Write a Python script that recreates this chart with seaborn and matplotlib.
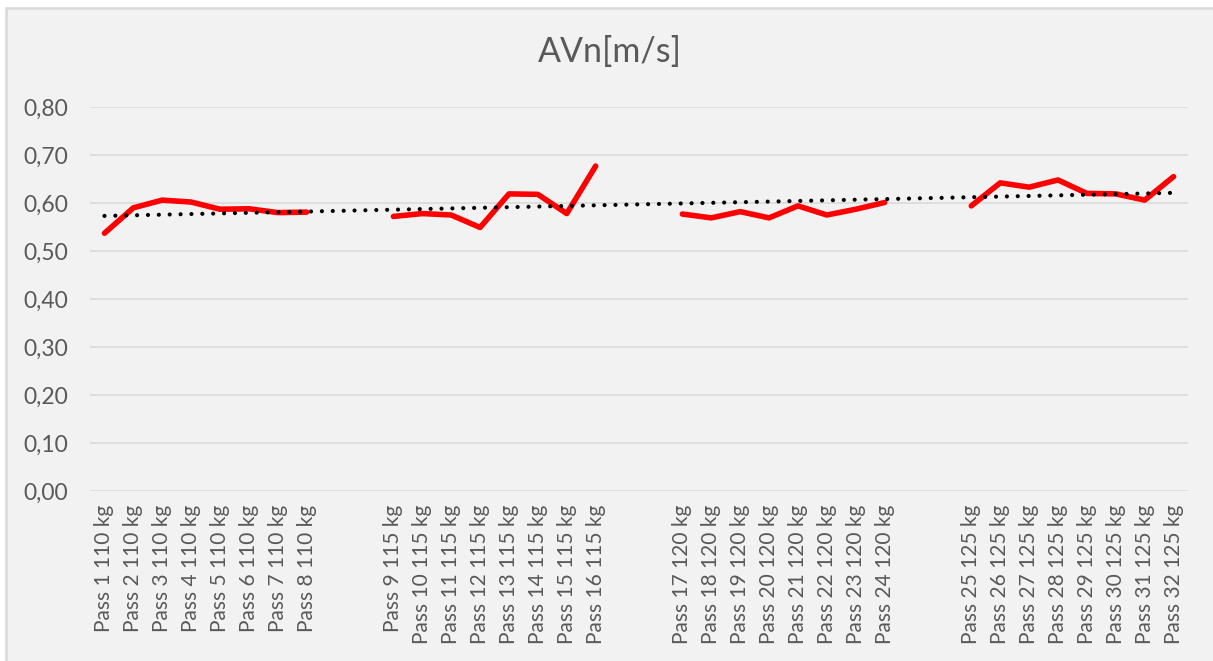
import numpy as np
import pandas as pd
import seaborn as sns
import matplotlib.pyplot as plt
from matplotlib.patches import Rectangle

# Average velocity per pass, four load groups of eight passes each
loads = ["110 kg", "115 kg", "120 kg", "125 kg"]
avn_110 = [0.537, 0.590, 0.606, 0.602, 0.587, 0.588, 0.580, 0.581]
avn_115 = [0.572, 0.578, 0.575, 0.549, 0.619, 0.618, 0.578, 0.677]
avn_120 = [0.577, 0.569, 0.582, 0.569, 0.594, 0.575, 0.587, 0.601]
avn_125 = [0.594, 0.642, 0.633, 0.648, 0.620, 0.619, 0.606, 0.655]
groups = [avn_110, avn_115, avn_120, avn_125]
gap = 2  # empty categories between load groups

y_ticks = [0.0, 0.1, 0.2, 0.3, 0.4, 0.5, 0.6, 0.7, 0.8]

# Build category table (blank categories carry NaN so the line breaks)
labels, values = [], []
n = 1
for gi, (load, vals) in enumerate(zip(loads, groups)):
    for v in vals:
        labels.append(f"Pass {n} {load}")
        values.append(v)
        n += 1
    if gi < len(groups) - 1:
        labels.extend([""] * gap)
        values.extend([np.nan] * gap)

df = pd.DataFrame({"x": np.arange(len(labels)), "label": labels, "avn": values})

sns.set_theme(style="white")
plt.rcParams["font.family"] = ["Lato", "DejaVu Sans"]
text_color = "#595959"
bg = "#F2F2F2"

fig = plt.figure(figsize=(12.13, 6.61), dpi=100, facecolor="white")
fig.patches.append(Rectangle((6 / 1213, -0.01), 1, 1.01 - 8 / 661, transform=fig.transFigure,
                             facecolor=bg, edgecolor="#D9D9D9", linewidth=1.8, zorder=-10))
ax = fig.add_axes([90 / 1213, 1 - 491 / 661, 1098 / 1213, 384 / 661])
ax.set_zorder(1)
ax.set_facecolor(bg)

# Horizontal gridlines
for t in y_ticks:
    ax.axhline(t, color="#D9D9D9", linewidth=1.1, zorder=1)

# Data line, broken at the empty categories
for start in range(0, len(df), 8 + gap):
    seg = df.iloc[start:start + 8]
    sns.lineplot(data=seg, x="x", y="avn", ax=ax, color="#FF0000", linewidth=4.0,
                 solid_capstyle="round", solid_joinstyle="round", zorder=3)

# Linear trendline over all categories
sns.regplot(data=df.dropna(), x="x", y="avn", ax=ax, scatter=False, ci=None,
            line_kws=dict(color="black", linewidth=3.0, linestyle=(0, (0.01, 2.6)),
                          dash_capstyle="round", zorder=4))

ax.set_xlim(-0.5, len(df) - 0.5)
ax.set_ylim(0, 0.8)
ax.set_yticks(y_ticks)
ax.set_yticklabels([f"{t:.2f}".replace(".", ",") for t in y_ticks],
                   fontsize=16.5, color=text_color)
mask = df["label"] != ""
ax.set_xticks(df.loc[mask, "x"])
ax.set_xticklabels(df.loc[mask, "label"], rotation=90, fontsize=15, color=text_color)
ax.tick_params(axis="y", length=0, pad=16)
ax.tick_params(axis="x", length=0, pad=10)
ax.set_xlabel("")
ax.set_ylabel("")
for s in ax.spines.values():
    s.set_visible(False)

fig.text(610 / 1213, 1 - 52 / 661, "AVn[m/s]", ha="center", va="center",
         fontsize=24.5, color=text_color)

fig.savefig("out.png", dpi=100, facecolor=fig.get_facecolor())
